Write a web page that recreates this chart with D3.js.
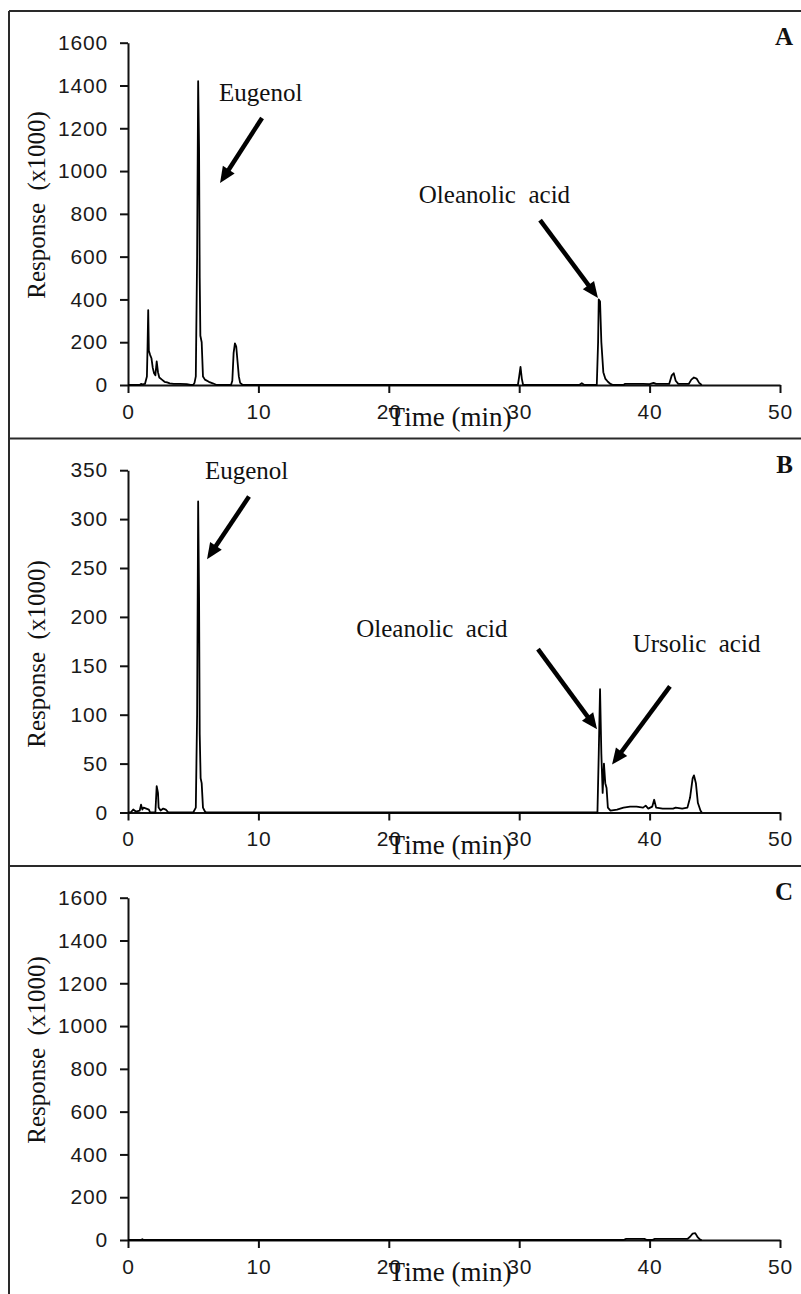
<!DOCTYPE html>
<html><head><meta charset="utf-8">
<script src="https://cdn.jsdelivr.net/npm/d3@7"></script>
<style>body{margin:0;background:#fff}svg{display:block}</style>
</head><body>
<svg id="chart" width="801" height="1294"></svg>
<script>
// ---------- data ----------
const xTicks = [0, 10, 20, 30, 40, 50];
const yTicksA = [0, 200, 400, 600, 800, 1000, 1200, 1400, 1600];
const yTicksB = [0, 50, 100, 150, 200, 250, 300, 350];
const yTicksC = [0, 200, 400, 600, 800, 1000, 1200, 1400, 1600];

const timeA = [0,0.9,1.0,1.1,1.3,1.45,1.5,1.55,1.6,1.7,1.8,1.9,2.0,2.1,2.2,2.3,2.4,2.6,2.8,3.0,3.2,3.5,4.0,4.5,4.8,5.0,5.1,5.2,5.3,5.38,5.45,5.5,5.55,5.65,5.75,5.9,6.2,6.5,6.8,7.9,8.0,8.1,8.2,8.3,8.4,8.5,8.6,8.8,29.9,30.0,30.1,30.2,30.3,34.6,34.8,35.0,35.95,36.05,36.1,36.2,36.3,36.45,36.6,36.8,37.0,37.2,38.0,38.1,39.5,40.0,40.3,40.5,41.5,41.7,41.85,42.0,42.2,43.0,43.2,43.4,43.6,43.8,44.0];
const respA = [0,0,5,3,5,40,180,350,160,140,125,80,55,45,110,60,35,25,15,12,8,5,5,4,0,0,10,40,600,1420,1100,500,230,200,40,25,15,8,0,0,20,150,195,180,110,40,10,0,0,40,85,30,0,0,8,0,0,200,400,390,200,60,30,15,5,0,0,5,5,4,10,5,5,45,55,20,5,5,25,35,30,10,0];

const timeB = [0,0.2,0.4,0.6,0.9,1.0,1.1,1.2,1.4,1.6,1.7,2.1,2.2,2.3,2.35,2.5,2.7,2.9,3.1,5.0,5.2,5.3,5.38,5.45,5.5,5.57,5.65,5.75,5.9,6.0,36.0,36.1,36.2,36.3,36.4,36.5,36.6,36.7,36.8,37.0,37.5,38.0,38.5,39.0,39.5,39.7,39.9,40.2,40.35,40.5,41.0,41.8,42.0,42.5,42.9,43.1,43.3,43.4,43.55,43.7,43.9,44.0];
const respB = [0,0,3,1,2,8,3,5,4,3,0,0,27,20,5,2,4,3,0,0,5,100,318,220,80,35,30,5,1,0,0,60,126,60,20,50,30,25,5,2,3,5,6,6,5,7,4,6,13,5,4,4,5,4,5,15,35,38,30,10,2,0];

const timeC = [0,1.0,1.1,1.2,38.0,38.2,39.6,39.8,40.2,40.4,42.9,43.1,43.3,43.5,43.7,43.9,44.0];
const respC = [0,0,4,0,0,5,5,0,0,5,5,15,30,32,12,0,0];

const panelLabels = ["A", "B", "C"];
const yMax = [1600, 350, 1600];

// annotations (data coordinates: time, response)
const annotPanel = [0, 0, 1, 1, 1];
const annotText  = ["Eugenol", "Oleanolic  acid", "Eugenol", "Oleanolic  acid", "Ursolic  acid"];
const annotT     = [6.98, 22.3, 5.9, 17.5, 38.7];
const annotV     = [1327, 851, 341, 179, 164];
const arrowT0    = [10.28, 31.6, 9.28, 31.44, 41.56];
const arrowV0    = [1248, 771, 323, 167, 129];
const arrowT1    = [7.06, 36.04, 6.06, 35.97, 37.12];
const arrowV1    = [944, 407, 259, 85, 49];

// ---------- drawing ----------
const svg = d3.select("#chart");
const panelH = 427.5, top0 = 11;
const x = d3.scaleLinear().domain([0, 50]).range([128, 780]);
const series = [[timeA, respA], [timeB, respB], [timeC, respC]];
const yTicks = [yTicksA, yTicksB, yTicksC];

// frame lines
const frame = svg.append("g").attr("stroke", "#2a2a2a").attr("stroke-width", 2).attr("fill", "none");
frame.append("line").attr("x1", 9).attr("x2", 801).attr("y1", top0).attr("y2", top0);
frame.append("line").attr("x1", 9).attr("x2", 9).attr("y1", top0).attr("y2", 1294);
[1, 2].forEach(i => frame.append("line").attr("x1", 9).attr("x2", 801)
  .attr("y1", top0 + i * panelH).attr("y2", top0 + i * panelH));

const ys = [];
panelLabels.forEach((lab, i) => {
  const top = top0 + i * panelH;
  const y = d3.scaleLinear().domain([0, yMax[i]]).range([top + 374, top + 31.7]);
  ys.push(y);
  const g = svg.append("g");

  // y axis
  const ya = g.append("g").attr("transform", `translate(${x(0)},0)`)
    .call(d3.axisLeft(y).tickValues(yTicks[i]).tickFormat(d3.format("d"))
      .tickSize(8).tickSizeOuter(0).tickPadding(12));
  // x axis
  const xa = g.append("g").attr("transform", `translate(0,${y(0)})`)
    .call(d3.axisBottom(x).tickValues(xTicks).tickFormat(d3.format("d"))
      .tickSize(8).tickSizeOuter(0).tickPadding(11));
  [ya, xa].forEach(a => {
    a.selectAll("path,line").attr("stroke", "#111").attr("stroke-width", 2);
    a.selectAll("text").attr("font-family", "'Liberation Sans', Arial, sans-serif")
      .attr("font-size", 21).attr("fill", "#1a1a1a").attr("letter-spacing", 0.8);
  });

  // data line
  const [tt, vv] = series[i];
  g.append("path")
    .datum(tt.map((t, k) => [t, vv[k]]))
    .attr("fill", "none").attr("stroke", "#000").attr("stroke-width", 1.8)
    .attr("stroke-linejoin", "round")
    .attr("d", d3.line().x(d => x(d[0])).y(d => y(d[1])));

  // axis titles
  g.append("text").attr("x", 450).attr("y", top + 415)
    .attr("text-anchor", "middle")
    .attr("font-family", "'Liberation Serif', 'Times New Roman', serif")
    .attr("font-size", 27).attr("fill", "#111").text("Time (min)");
  const cy = [205, 654, 1050][i];
  g.append("text").attr("transform", `translate(45,${cy}) rotate(-90)`)
    .attr("text-anchor", "middle")
    .attr("font-family", "'Liberation Serif', 'Times New Roman', serif")
    .attr("font-size", 25).attr("fill", "#111").attr("xml:space", "preserve")
    .style("white-space", "pre").text("Response  (x1000)");

  // panel letter
  g.append("text").attr("x", 793).attr("y", top + 34)
    .attr("text-anchor", "end")
    .attr("font-family", "'Liberation Serif', 'Times New Roman', serif")
    .attr("font-weight", "bold").attr("font-size", 25).attr("fill", "#111").text(lab);
});

// annotations
annotText.forEach((txt, k) => {
  const y = ys[annotPanel[k]];
  svg.append("text").attr("x", x(annotT[k])).attr("y", y(annotV[k]))
    .attr("font-family", "'Liberation Serif', 'Times New Roman', serif")
    .attr("font-size", 25).attr("fill", "#111").attr("xml:space", "preserve")
    .style("white-space", "pre").text(txt);
  const x0 = x(arrowT0[k]), y0 = y(arrowV0[k]), x1 = x(arrowT1[k]), y1 = y(arrowV1[k]);
  const dx = x1 - x0, dy = y1 - y0, L = Math.hypot(dx, dy);
  const ux = dx / L, uy = dy / L, headL = 16, headW = 7;
  const bx = x1 - ux * headL, by = y1 - uy * headL;
  svg.append("line").attr("x1", x0).attr("y1", y0).attr("x2", bx + ux * 1).attr("y2", by + uy * 1)
    .attr("stroke", "#000").attr("stroke-width", 4.5);
  svg.append("polygon")
    .attr("points", [[x1, y1], [bx - uy * headW, by + ux * headW], [bx + uy * headW, by - ux * headW]].map(p => p.join(",")).join(" "))
    .attr("fill", "#000");
});
</script>
</body></html>
